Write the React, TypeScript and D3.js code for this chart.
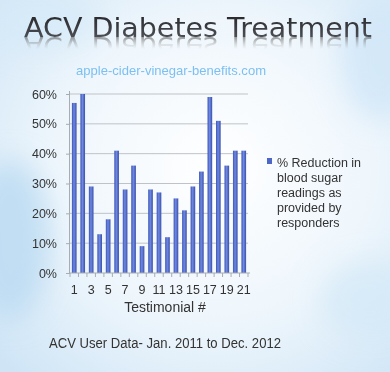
import React, { useEffect, useRef } from 'react'
import * as d3 from 'd3'

// testimonial numbers and reported % reduction in blood sugar
const testimonials = d3.range(1, 22)
const reductions = [57, 60, 29, 13, 18, 41, 28, 36, 9, 28, 27, 12, 25, 21, 29, 34, 59, 51, 36, 41, 41]
const yTicks = [0, 10, 20, 30, 40, 50, 60]
const xTickLabels = [1, 3, 5, 7, 9, 11, 13, 15, 17, 19, 21]
const legendLines = ['% Reduction in', 'blood sugar', 'readings as', 'provided by', 'responders']

const W = 390
const H = 372
const font = '"Liberation Sans", Arial, sans-serif'

const App = () => {
  const svgRef = useRef<SVGSVGElement>(null)

  useEffect(() => {
    document.body.style.margin = '0'
    if (!svgRef.current) return
    const svg = d3.select(svgRef.current)
    svg.selectAll('*').remove()

    const defs = svg.append('defs')

    // background
    const bg = defs.append('radialGradient').attr('id', 'bg').attr('cx', '0.55').attr('cy', '0.45').attr('r', '0.75')
    bg.append('stop').attr('offset', '0%').attr('stop-color', '#ffffff')
    bg.append('stop').attr('offset', '55%').attr('stop-color', '#eef6fc')
    bg.append('stop').attr('offset', '100%').attr('stop-color', '#cfe5f6')

    const blur = defs.append('filter').attr('id', 'blur').attr('x', '-50%').attr('y', '-50%').attr('width', '200%').attr('height', '200%')
    blur.append('feGaussianBlur').attr('stdDeviation', 14)

    const bar = defs.append('linearGradient').attr('id', 'bar').attr('x1', '0').attr('x2', '1').attr('y1', '0').attr('y2', '0')
    bar.append('stop').attr('offset', '0%').attr('stop-color', '#3c55b4')
    bar.append('stop').attr('offset', '45%').attr('stop-color', '#6f88e2')
    bar.append('stop').attr('offset', '100%').attr('stop-color', '#3a50ab')

    const titleGrad = defs.append('linearGradient').attr('id', 'titleGrad').attr('x1', '0').attr('x2', '0').attr('y1', '0').attr('y2', '1')
    titleGrad.append('stop').attr('offset', '0%').attr('stop-color', '#232326')
    titleGrad.append('stop').attr('offset', '100%').attr('stop-color', '#55585f')

    // reflection fades out away from the baseline (local coords, before flip)
    const reflGrad = defs.append('linearGradient').attr('id', 'reflGrad').attr('gradientUnits', 'userSpaceOnUse')
      .attr('x1', 0).attr('x2', 0).attr('y1', 37).attr('y2', 25)
    reflGrad.append('stop').attr('offset', '0%').attr('stop-color', '#555').attr('stop-opacity', 0.6)
    reflGrad.append('stop').attr('offset', '100%').attr('stop-color', '#999').attr('stop-opacity', 0)

    svg.append('rect').attr('width', W).attr('height', H).attr('fill', 'url(#bg)')
    // soft streaks
    const streaks = svg.append('g').attr('filter', 'url(#blur)')
    streaks.append('ellipse').attr('cx', 10).attr('cy', 240).attr('rx', 40).attr('ry', 80).attr('fill', '#b9d9f1').attr('opacity', 0.8)
    streaks.append('ellipse').attr('cx', 380).attr('cy', 60).attr('rx', 40).attr('ry', 60).attr('fill', '#cfe6f7').attr('opacity', 0.8)
    streaks.append('ellipse').attr('cx', 370).attr('cy', 300).attr('rx', 50).attr('ry', 40).attr('fill', '#d3e8f7').attr('opacity', 0.7)
    streaks.append('ellipse').attr('cx', 40).attr('cy', 20).attr('rx', 60).attr('ry', 30).attr('fill', '#d6eaf8').attr('opacity', 0.7)

    // title + reflection
    const titleText = 'ACV Diabetes Treatment'
    const titleStyle = (t: d3.Selection<SVGTextElement, unknown, null, undefined>) =>
      t.attr('x', 24).attr('y', 37).attr('textLength', 348).attr('lengthAdjust', 'spacingAndGlyphs')
        .style('font-family', '"DejaVu Sans", sans-serif').style('font-size', '27px').text(titleText)
    svg.append('text').attr('transform', 'translate(0,74) scale(1,-1)').attr('fill', 'url(#reflGrad)').call(titleStyle)
    svg.append('text').attr('fill', 'url(#titleGrad)').call(titleStyle)

    svg.append('text').attr('x', 76).attr('y', 75).attr('textLength', 190).attr('lengthAdjust', 'spacingAndGlyphs')
      .style('font-family', font).style('font-size', '13.5px')
      .attr('fill', '#7cbff0').text('apple-cider-vinegar-benefits.com')

    // chart
    const x = d3.scaleBand<number>().domain(testimonials).range([70, 248]).paddingInner(0.45).paddingOuter(0.225)
    const y = d3.scaleLinear().domain([0, 60]).range([273, 94])

    const grid = svg.append('g')
    grid.selectAll('line').data(yTicks.slice(1)).join('line')
      .attr('x1', 70).attr('x2', 248).attr('y1', (d) => y(d)).attr('y2', (d) => y(d))
      .attr('stroke', '#bfc3c8').attr('stroke-width', 1)

    svg.append('g').selectAll('rect').data(reductions).join('rect')
      .attr('x', (_, i) => x(testimonials[i])!)
      .attr('y', (d) => y(d))
      .attr('width', x.bandwidth())
      .attr('height', (d) => y(0) - y(d))
      .attr('fill', 'url(#bar)')

    // y axis
    const yAxis = svg.append('g').attr('transform', 'translate(70,0)')
      .call(d3.axisLeft(y).tickValues(yTicks).tickSize(4).tickFormat((d) => `${d}%`))
    yAxis.select('.domain').attr('stroke', '#a8adb3').attr('d', `M-0.5,${y(60) - 3}V${y(0)}`)
    yAxis.selectAll('.tick line').attr('stroke', '#a8adb3')
    yAxis.selectAll('.tick text').attr('x', -13).attr('fill', '#333').style('font-family', font).style('font-size', '12.5px')

    // x axis: minor ticks at category boundaries
    const xAxis = svg.append('g').attr('transform', `translate(0,${y(0)})`)
    xAxis.append('line').attr('x1', 70).attr('x2', 250).attr('stroke', '#a8adb3')
    const step = x.step()
    xAxis.selectAll('line.tk').data(d3.range(0, 22)).join('line').attr('class', 'tk')
      .attr('x1', (d) => 70 + d * step).attr('x2', (d) => 70 + d * step)
      .attr('y1', 0).attr('y2', 4).attr('stroke', '#a8adb3')
    xAxis.selectAll('text').data(xTickLabels).join('text')
      .attr('x', (d) => x(d)! + x.bandwidth() / 2).attr('y', 21)
      .attr('text-anchor', 'middle').attr('fill', '#333')
      .style('font-family', font).style('font-size', '12.5px').text((d) => d)

    svg.append('text').attr('x', 165).attr('y', 312).attr('text-anchor', 'middle')
      .attr('fill', '#333').style('font-family', font).style('font-size', '14px').text('Testimonial #')

    // legend
    svg.append('rect').attr('x', 267).attr('y', 158).attr('width', 5).attr('height', 6).attr('fill', '#4e67c6')
    svg.append('g').selectAll('text').data(legendLines).join('text')
      .attr('x', 277).attr('y', (_, i) => 167 + i * 15)
      .attr('fill', '#333').style('font-family', font).style('font-size', '12.5px').text((d) => d)

    svg.append('text').attr('x', 49).attr('y', 348).attr('textLength', 232).attr('lengthAdjust', 'spacingAndGlyphs')
      .attr('fill', '#333').style('font-family', font).style('font-size', '14px')
      .text('ACV User Data- Jan. 2011 to Dec. 2012')
  }, [])

  return <svg ref={svgRef} width={W} height={H} style={{ display: 'block' }} />
}

export default App
